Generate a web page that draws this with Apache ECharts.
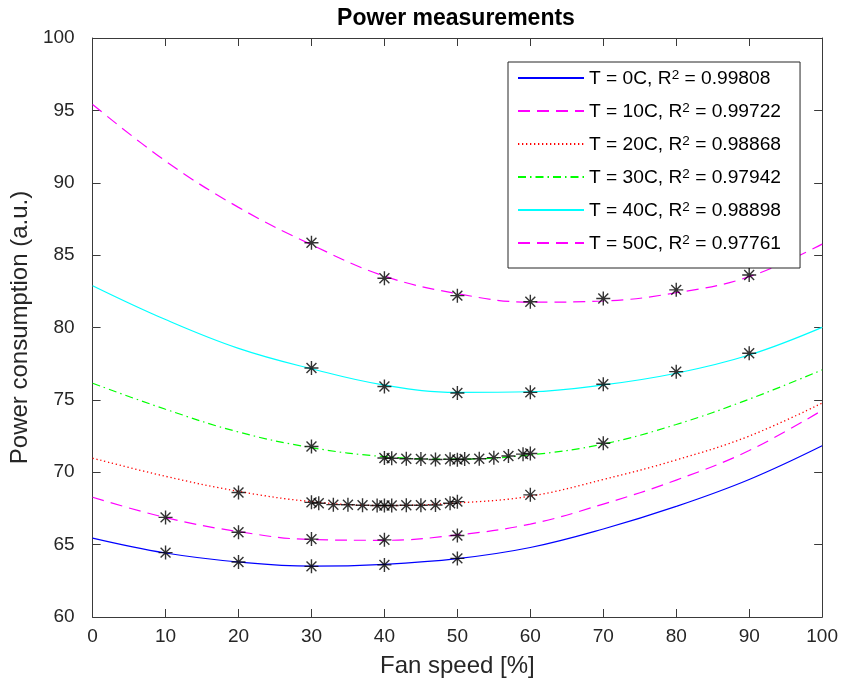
<!DOCTYPE html>
<html>
<head>
<meta charset="utf-8">
<script src="https://cdn.jsdelivr.net/npm/echarts@6/dist/echarts.min.js"></script>
<style>
html,body{margin:0;padding:0;background:#fff;}
#chart{width:841px;height:691px;}
</style>
</head>
<body>
<div id="chart"></div>
<script>
// ---- data ----
const xTicks = [0, 10, 20, 30, 40, 50, 60, 70, 80, 90, 100];
const yTicks = [60, 65, 70, 75, 80, 85, 90, 95, 100];
const tempLabels = ['0', '10', '20', '30', '40', '50'];
const r2Values = ['0.99808', '0.99722', '0.98868', '0.97942', '0.98898', '0.97761'];

// fitted curves, sampled at fitX
const fitX = [0, 10, 20, 30, 40, 50, 60, 70, 80, 90, 100];
const fitT0 = [65.45, 64.42, 63.80, 63.51, 63.64, 64.03, 64.80, 66.08, 67.64, 69.50, 71.83];
const fitT10 = [68.27, 66.87, 65.90, 65.35, 65.30, 65.67, 66.42, 67.80, 69.46, 71.50, 74.28];
const fitT20 = [70.97, 69.72, 68.68, 67.97, 67.70, 67.88, 68.35, 69.50, 70.85, 72.50, 74.78];
const fitT30 = [76.15, 74.35, 72.78, 71.70, 71.08, 70.90, 71.20, 71.95, 73.30, 75.05, 77.07];
const fitT40 = [82.89, 80.55, 78.56, 77.15, 76.02, 75.52, 75.56, 76.03, 76.84, 78.10, 80.01];
const fitT50 = [95.41, 91.50, 88.30, 85.72, 83.55, 82.34, 81.75, 81.83, 82.40, 83.51, 85.76];

// measurements
const measT0X = [10, 20, 30, 40, 50];
const measT0Y = [64.45, 63.80, 63.50, 63.60, 64.05];
const measT10X = [10, 20, 30, 40, 50];
const measT10Y = [66.88, 65.85, 65.38, 65.33, 65.63];
const measT20X = [20, 30, 31, 33, 35, 37, 39, 40, 41, 43, 45, 47, 49, 50, 60];
const measT20Y = [68.60, 67.92, 67.86, 67.76, 67.75, 67.72, 67.70, 67.70, 67.70, 67.72, 67.72, 67.74, 67.86, 67.97, 68.44];
const measT30X = [30, 40, 41, 43, 45, 47, 49, 50, 51, 53, 55, 57, 59, 60, 70];
const measT30Y = [71.78, 70.98, 70.97, 70.93, 70.92, 70.88, 70.90, 70.87, 70.92, 70.93, 71.01, 71.12, 71.25, 71.30, 72.00];
const measT40X = [30, 40, 50, 60, 70, 80, 90];
const measT40Y = [77.20, 75.92, 75.48, 75.52, 76.08, 76.95, 78.22];
const measT50X = [30, 40, 50, 60, 70, 80, 90];
const measT50Y = [85.86, 83.40, 82.20, 81.78, 82.00, 82.60, 83.63];

// ---- build ----
const FONT = "'Liberation Sans', Arial, Helvetica, sans-serif";
const fits = [fitT0, fitT10, fitT20, fitT30, fitT40, fitT50];
const measX = [measT0X, measT10X, measT20X, measT30X, measT40X, measT50X];
const measY = [measT0Y, measT10Y, measT20Y, measT30Y, measT40Y, measT50Y];
const lineStyles = [
  {color: '#0000ff', width: 1.2, type: 'solid'},
  {color: '#ff00ff', width: 1.2, type: [12, 7]},
  {color: '#ff0000', width: 1.3, type: [1.3, 2.7]},
  {color: '#00ff00', width: 1.2, type: [8, 4, 1.5, 4]},
  {color: '#00ffff', width: 1.2, type: 'solid'},
  {color: '#ff00ff', width: 1.2, type: [12, 7]}
];
const names = tempLabels.map(t => 'T = ' + t + 'C');
const asterisk = 'path://M0,5L10,5M5,0L5,10M1.46,1.46L8.54,8.54M8.54,1.46L1.46,8.54';

const series = [];
fits.forEach((f, i) => {
  series.push({
    name: names[i], type: 'line', xAxisIndex: 0, yAxisIndex: 0,
    data: fitX.map((x, k) => [x, f[k]]),
    smooth: 0.4, symbol: 'none', showSymbol: false,
    lineStyle: lineStyles[i], itemStyle: {color: lineStyles[i].color},
    z: 2, silent: true
  });
});
measX.forEach((xs, i) => {
  series.push({
    name: 'meas' + i, type: 'scatter', xAxisIndex: 0, yAxisIndex: 0,
    data: xs.map((x, k) => [x, measY[i][k]]),
    symbol: asterisk, symbolSize: 14,
    itemStyle: {color: '#000', borderColor: '#000', borderWidth: 1.4},
    z: 5, silent: true
  });
});

const axisColor = '#3a3a3a';
function xAx(pos, show) {
  return {
    type: 'value', position: pos, min: 0, max: 100, interval: 10,
    axisLine: {show: true, onZero: false, lineStyle: {color: axisColor, width: 1}},
    axisTick: {show: true, inside: true, length: 8, lineStyle: {color: axisColor}},
    axisLabel: {show: show, color: '#262626', fontFamily: FONT, fontSize: 19, margin: 10},
    splitLine: {show: false},
    name: show ? 'Fan speed [%]' : '', nameLocation: 'middle', nameGap: 37,
    nameTextStyle: {color: '#262626', fontFamily: FONT, fontSize: 24}
  };
}
function yAx(pos, show) {
  return {
    type: 'value', position: pos, min: 60, max: 100, interval: 5,
    axisLine: {show: true, onZero: false, lineStyle: {color: axisColor, width: 1}},
    axisTick: {show: true, inside: true, length: 8, lineStyle: {color: axisColor}},
    axisLabel: {show: show, color: '#262626', fontFamily: FONT, fontSize: 19, margin: 18},
    splitLine: {show: false},
    name: show ? 'Power consumption (a.u.)' : '', nameLocation: 'middle', nameGap: 58,
    nameTextStyle: {color: '#262626', fontFamily: FONT, fontSize: 24}
  };
}

const chart = echarts.init(document.getElementById('chart'), null, {renderer: 'canvas'});
chart.setOption({
  animation: false,
  backgroundColor: '#ffffff',
  grid: {left: 90, right: 18, top: 38, bottom: 74, containLabel: false},
  xAxis: [xAx('bottom', true), xAx('top', false)],
  yAxis: [yAx('left', true), yAx('right', false)],
  legend: {
    data: names, orient: 'vertical', left: 508, top: 62,
    backgroundColor: '#ffffff', borderColor: '#262626', borderWidth: 1,
    padding: [6, 19, 10, 9], itemWidth: 66, itemHeight: 20, itemGap: 8,
    itemStyle: {opacity: 0},
    formatter: function (name) {
      const i = names.indexOf(name);
      return '{n|T = ' + tempLabels[i] + 'C, R}{sup|2}{n| = ' + r2Values[i] + '}';
    },
    textStyle: {
      color: '#000', fontFamily: FONT, fontSize: 19.2,
      rich: {
        n: {fontSize: 19.2, lineHeight: 20, verticalAlign: 'bottom', color: '#000', fontFamily: FONT},
        sup: {fontSize: 13.5, lineHeight: 14, verticalAlign: 'top', padding: [0, 0, 11, 0], color: '#000', fontFamily: FONT}
      }
    },
    selectedMode: false
  },
  graphic: [{
    type: 'text', x: 456, y: 19, z: 100,
    style: {text: 'Power measurements', align: 'center', verticalAlign: 'middle',
      font: "bold 23px 'Liberation Sans', Arial, sans-serif", fill: '#000'}
  }],
  series: series
});
</script>
</body>
</html>
